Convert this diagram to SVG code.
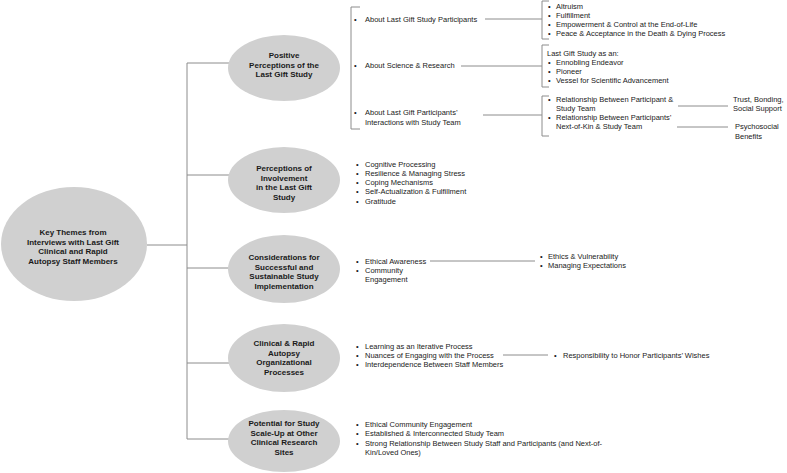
<svg xmlns="http://www.w3.org/2000/svg" width="787" height="473" viewBox="0 0 787 473">
<style>
  .bg{fill:#ffffff}
  .ell{fill:#d0d0d0;stroke:none}
  .ht{font-family:"Liberation Sans",Arial,sans-serif;font-size:8px;font-weight:bold;fill:#1a1a1a;text-anchor:middle}
  .t{font-family:"Liberation Sans",Arial,sans-serif;font-size:7.5px;fill:#1a1a1a}
  .ln{stroke:#8c8c8c;stroke-width:1;fill:none}
</style>
<rect class="bg" x="0" y="0" width="787" height="473"/>

<g id="connectors">
  <path class="ln" d="M147,245 H187 M187,63 V439 M187,63 H232 M187,175 H231 M187,268 H230 M187,363 H231 M187,439 H232"/>
  <path class="ln" d="M360,7 H351 V129 H360"/>
  <path class="ln" d="M485,19 H542 M461,66 H542 M483,115 H542"/>
  <path class="ln" d="M549,1 H542 V39 H549 M549,45 H542 V87 H549 M549,96 H542 V136 H549"/>
  <path class="ln" d="M678,106 H728 M677,127 H728"/>
  <path class="ln" d="M430,261 H535"/>
  <path class="ln" d="M503,355 H548"/>
</g>

<g id="root">
  <ellipse class="ell" cx="74" cy="244" rx="73" ry="57"/>
  <text class="ht" x="73" y="235">Key Themes from</text>
  <text class="ht" x="73" y="244.5">Interviews with Last Gift</text>
  <text class="ht" x="73" y="254">Clinical and Rapid</text>
  <text class="ht" x="73" y="263.5">Autopsy Staff Members</text>
</g>

<g id="n-positive">
  <ellipse class="ell" cx="284" cy="68" rx="56" ry="33"/>
  <text class="ht" x="284" y="58">Positive</text>
  <text class="ht" x="284" y="67.5">Perceptions of the</text>
  <text class="ht" x="284" y="77">Last Gift Study</text>
</g>

<g id="n-positive-list">
  <text class="t" x="354" y="21.5">•</text><text class="t" x="365" y="21.5">About Last Gift Study Participants</text>
  <text class="t" x="354" y="68">•</text><text class="t" x="365" y="68">About Science &amp; Research</text>
  <text class="t" x="354" y="114.5">•</text><text class="t" x="365" y="114.5">About Last Gift Participants’</text>
  <text class="t" x="365" y="124.5">Interactions with Study Team</text>
</g>

<g id="n-participants-list">
  <text class="t" x="548" y="8.5">•</text><text class="t" x="556" y="8.5">Altruism</text>
  <text class="t" x="548" y="17.5">•</text><text class="t" x="556" y="17.5">Fulfillment</text>
  <text class="t" x="548" y="26.5">•</text><text class="t" x="556" y="26.5">Empowerment &amp; Control at the End-of-Life</text>
  <text class="t" x="548" y="35.5">•</text><text class="t" x="556" y="35.5">Peace &amp; Acceptance in the Death &amp; Dying Process</text>
</g>

<g id="n-science-list">
  <text class="t" x="547" y="55.5">Last Gift Study as an:</text>
  <text class="t" x="548" y="64.5">•</text><text class="t" x="556" y="64.5">Ennobling Endeavor</text>
  <text class="t" x="548" y="73.5">•</text><text class="t" x="556" y="73.5">Pioneer</text>
  <text class="t" x="548" y="82.5">•</text><text class="t" x="556" y="82.5">Vessel for Scientific Advancement</text>
</g>

<g id="n-team-list">
  <text class="t" x="548" y="101.5">•</text><text class="t" x="556" y="101.5">Relationship Between Participant &amp;</text>
  <text class="t" x="556" y="110.5">Study Team</text>
  <text class="t" x="548" y="119.5">•</text><text class="t" x="556" y="119.5">Relationship Between Participants’</text>
  <text class="t" x="556" y="129">Next-of-Kin &amp; Study Team</text>
</g>

<g id="n-trust">
  <text class="t" x="733" y="101.5">Trust, Bonding,</text>
  <text class="t" x="733" y="110.5">Social Support</text>
</g>

<g id="n-psychosocial">
  <text class="t" x="735" y="128.5">Psychosocial</text>
  <text class="t" x="735" y="138.5">Benefits</text>
</g>

<g id="n-involvement">
  <ellipse class="ell" cx="284" cy="180" rx="56" ry="33"/>
  <text class="ht" x="284" y="171">Perceptions of</text>
  <text class="ht" x="284" y="180.5">Involvement</text>
  <text class="ht" x="284" y="190">in the Last Gift</text>
  <text class="ht" x="284" y="199.5">Study</text>
</g>

<g id="n-involvement-list">
  <text class="t" x="356" y="166.5">•</text><text class="t" x="365" y="166.5">Cognitive Processing</text>
  <text class="t" x="356" y="175.5">•</text><text class="t" x="365" y="175.5">Resilience &amp; Managing Stress</text>
  <text class="t" x="356" y="184.5">•</text><text class="t" x="365" y="184.5">Coping Mechanisms</text>
  <text class="t" x="356" y="194">•</text><text class="t" x="365" y="194">Self-Actualization &amp; Fulfillment</text>
  <text class="t" x="356" y="203.5">•</text><text class="t" x="365" y="203.5">Gratitude</text>
</g>

<g id="n-considerations">
  <ellipse class="ell" cx="284" cy="269" rx="56" ry="34"/>
  <text class="ht" x="284" y="260">Considerations for</text>
  <text class="ht" x="284" y="269.5">Successful and</text>
  <text class="ht" x="284" y="279">Sustainable Study</text>
  <text class="ht" x="284" y="288.5">Implementation</text>
</g>

<g id="n-considerations-list">
  <text class="t" x="356" y="263.5">•</text><text class="t" x="365" y="263.5">Ethical Awareness</text>
  <text class="t" x="356" y="272.5">•</text><text class="t" x="365" y="272.5">Community</text>
  <text class="t" x="365" y="281.5">Engagement</text>
</g>

<g id="n-ethics-list">
  <text class="t" x="540" y="258.5">•</text><text class="t" x="548" y="258.5">Ethics &amp; Vulnerability</text>
  <text class="t" x="540" y="267.5">•</text><text class="t" x="548" y="267.5">Managing Expectations</text>
</g>

<g id="n-clinical">
  <ellipse class="ell" cx="284" cy="358" rx="56" ry="34"/>
  <text class="ht" x="284" y="346">Clinical &amp; Rapid</text>
  <text class="ht" x="284" y="355.5">Autopsy</text>
  <text class="ht" x="284" y="365">Organizational</text>
  <text class="ht" x="284" y="374.5">Processes</text>
</g>

<g id="n-clinical-list">
  <text class="t" x="356" y="348.5">•</text><text class="t" x="365" y="348.5">Learning as an Iterative Process</text>
  <text class="t" x="356" y="357.5">•</text><text class="t" x="365" y="357.5">Nuances of Engaging with the Process</text>
  <text class="t" x="356" y="367">•</text><text class="t" x="365" y="367">Interdependence Between Staff Members</text>
</g>

<g id="n-responsibility">
  <text class="t" x="554" y="357.5">•</text><text class="t" x="563" y="357.5">Responsibility to Honor Participants’ Wishes</text>
</g>

<g id="n-potential">
  <ellipse class="ell" cx="284" cy="441" rx="56" ry="31"/>
  <text class="ht" x="284" y="426">Potential for Study</text>
  <text class="ht" x="284" y="435.5">Scale-Up at Other</text>
  <text class="ht" x="284" y="445">Clinical Research</text>
  <text class="ht" x="284" y="454.5">Sites</text>
</g>

<g id="n-potential-list">
  <text class="t" x="356" y="427">•</text><text class="t" x="365" y="427">Ethical Community Engagement</text>
  <text class="t" x="356" y="436">•</text><text class="t" x="365" y="436">Established &amp; Interconnected Study Team</text>
  <text class="t" x="356" y="445.5">•</text><text class="t" x="365" y="445.5">Strong Relationship Between Study Staff and Participants (and Next-of-</text>
  <text class="t" x="365" y="454.5">Kin/Loved Ones)</text>
</g>
</svg>
